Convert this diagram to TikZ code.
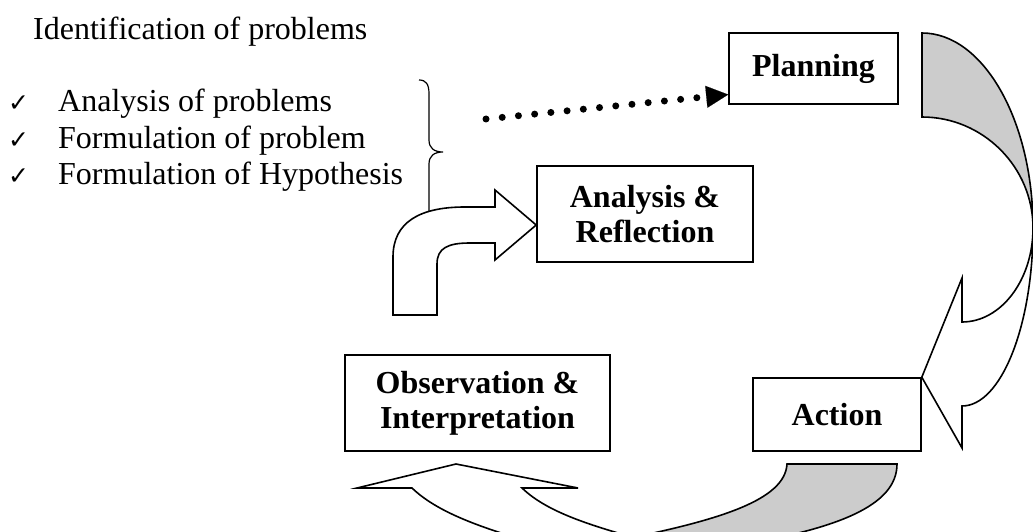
\documentclass[tikz,border=0pt]{standalone}
\usepackage{fontspec}
\setmainfont{Liberation Serif}
\newfontfamily\symfont{DejaVu Sans}
\usetikzlibrary{arrows.meta}

\begin{document}
\begin{tikzpicture}[x=1pt,y=-1pt,
    stage/.style={draw,line width=1.6pt,align=center,inner sep=0pt,
      font=\bfseries\fontsize{32}{35}\selectfont},
    listtext/.style={anchor=base west,inner sep=0pt,font=\fontsize{32}{37}\selectfont},
    tick/.style={anchor=base west,inner sep=0pt,font=\symfont\fontsize{25}{25}\selectfont},
    band/.style={draw,line width=1.6pt},
    dotarrow/.style={line width=7pt,line cap=round,dash pattern=on 0pt off 16.3pt,
      -{Triangle[length=22pt,width=22pt,line width=0.1pt]}}]
    \useasboundingbox (0,0) rectangle (1033,532);

    \node[listtext] (ident) at (33,40) {Identification of problems};
    \node[tick] (tick1) at (8,112) {✓};
    \node[tick] (tick2) at (8,148) {✓};
    \node[tick] (tick3) at (8,184) {✓};
    \node[listtext] (item1) at (58,112) {Analysis of problems};
    \node[listtext] (item2) at (58,148) {Formulation of problem};
    \node[listtext] (item3) at (58,184) {Formulation of Hypothesis};

    \node[stage,minimum width=169pt,minimum height=71pt] (plan) at (813.5,68.5) {Planning};
    \node[stage,minimum width=216pt,minimum height=96pt] (refl) at (645,214) {Analysis \&\\Reflection};
    \node[stage,minimum width=265pt,minimum height=96pt] (obs) at (477.5,403) {Observation \&\\Interpretation};
    \node[stage,minimum width=168pt,minimum height=73pt] (act) at (837,414.5) {Action};

    \draw[line width=1.2pt] (419,80) .. controls (426,80) and (429,84) .. (429,94) -- (429,140)
      .. controls (429,148) and (434,152) .. (443,152) .. controls (434,152) and (429,156) .. (429,164) -- (429,222);
    \draw[band,fill=white] (393,315) -- (393,257) .. controls (393,222) and (420,207) .. (465,207) -- (495,207)
      -- (495,190) -- (refl.west |- 0,225) -- (495,260) -- (495,243) -- (470,243)
      .. controls (448,243) and (437,248) .. (437,264) -- (437,315) -- cycle;

    \coordinate (dotstart) at (486,119);
    \draw[dotarrow] (dotstart) -- (plan.197);

    \draw[band,fill=black!20] (922,33) .. controls (983,33) and (1033,120) .. (1033,228)
      .. controls (1033,167) and (983,117) .. (922,117) -- cycle;
    \draw[band,fill=white] (1033,228) .. controls (1033,326) and (1001,406) .. (962,406) -- (962,448)
      -- (act.north east) -- (962,278) -- (962,322) .. controls (1001,322) and (1033,280) .. (1033,228) -- cycle;

    \draw[band,fill=black!20] (787,464) -- (897,464) .. controls (897,505) and (840,530) .. (720,548)
      -- (620,540) .. controls (720,520) and (785,500) .. (787,464) -- cycle;
    \draw[band,fill=white] (540,545) .. controls (490,530) and (440,515) .. (412,488) -- (357,488)
      -- (456,464) -- (578,488) -- (522,488) .. controls (550,515) and (600,528) .. (660,545) -- cycle;
\end{tikzpicture}
\end{document}
